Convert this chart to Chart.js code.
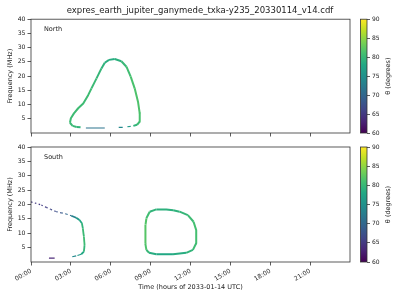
<!DOCTYPE html>
<html>
<head>
<meta charset="utf-8">
<script src="https://cdn.jsdelivr.net/npm/chart.js@4.4.0/dist/chart.umd.min.js"></script>
<style>
  html, body { margin: 0; padding: 0; background: #fff; }
  #wrap { position: relative; width: 400px; height: 300px; }
  #wrap canvas { position: absolute; left: 0; }
</style>
</head>
<body>
<div id="wrap">
  <canvas id="northChart" width="400" height="140" style="top:0"></canvas>
  <canvas id="southChart" width="400" height="160" style="top:140px"></canvas>
</div>
<script>
// ---- text ----
const TITLE = 'expres_earth_jupiter_ganymede_txka-y235_20330114_v14.cdf';
const X_TITLE = 'Time (hours of 2033-01-14 UTC)';
const Y_TITLE = 'Frequency (MHz)';
const CB_TITLE = 'θ (degrees)';

// ---- ticks ----
const hourTicks = [0, 3, 6, 9, 12, 15, 18, 21];
const hourLabels = ['00:00', '03:00', '06:00', '09:00', '12:00', '15:00', '18:00', '21:00'];
const freqTicks = [5, 10, 15, 20, 25, 30, 35, 40];
const thetaTicks = [60, 65, 70, 75, 80, 85, 90];

// ---- North hemisphere (time h, freq MHz, theta deg) ----
const northLoopT  = [3.73, 3.43, 3.13, 2.93, 3.0, 3.23, 3.55, 3.93, 4.3, 4.55, 4.93, 5.3, 5.55, 5.87, 6.3, 6.8, 7.18, 7.5, 7.8, 8.05, 8.18, 8.18, 7.98, 7.7];
const northLoopF  = [2.0, 2.1, 2.5, 3.6, 5.2, 6.9, 8.7, 10.4, 13.3, 15.7, 19.2, 22.7, 24.7, 25.7, 26.0, 25.2, 23.3, 19.8, 15.7, 11.0, 6.9, 4.0, 2.9, 2.5];
const northLoopTh = [79, 80, 80, 80.5, 80.5, 80.5, 80.5, 80.5, 80.5, 80.5, 80, 79.5, 79, 78.5, 78.5, 79.5, 80.5, 81, 81.5, 81.5, 81.5, 81, 80, 79];

const northLowT  = [4.13, 5.55, 5.6, 6.6, 6.9, 6.95, 7.25, 7.5];
const northLowF  = [1.75, 1.75, null, 2.0, 2.0, null, 2.2, 2.3];
const northLowTh = [71.5, 71.5, 71.5, 74, 74, 74, 76, 76];

// ---- South hemisphere ----
const southDotT  = [0.0, 0.4, 0.78, 1.15, 1.48, 1.9, 2.28, 2.65, 3.03];
const southDotF  = [20.9, 20.4, 19.8, 19.0, 18.3, 17.5, 17.1, 16.7, 16.1];
const southDotTh = [65, 65, 65, 65.5, 66, 67, 68, 69.5, 71.5];

const southArcT  = [3.03, 3.4, 3.65, 3.83, 3.9, 3.98, 4.03, 3.98, 3.78];
const southArcF  = [16.1, 15.4, 14.6, 13.5, 11.7, 8.8, 5.9, 3.6, 2.7];
const southArcTh = [71.5, 75, 77, 79, 80, 80.5, 80.5, 79, 77];

const southTailT  = [3.78, 3.4, 2.98];
const southTailF  = [2.7, 2.1, 1.7];
const southTailTh = [77, 75, 73];

const southLowT  = [1.35, 1.78];
const southLowF  = [1.35, 1.35];
const southLowTh = [63, 63];

const southLoopT  = [8.68, 8.6, 8.6, 8.62, 8.68, 8.93, 9.43, 10.18, 10.7, 11.18, 11.8, 12.23, 12.43, 12.43, 12.18, 11.68, 10.68, 9.43, 8.88, 8.68];
const southLoopF  = [4.2, 6.5, 10.0, 13.0, 15.2, 17.5, 18.3, 18.3, 18.0, 17.5, 16.3, 14.0, 11.1, 6.5, 4.2, 3.2, 2.7, 2.7, 3.2, 4.2];
const southLoopTh = [81, 82, 82, 82, 81.5, 80, 79, 79, 79, 79.5, 80, 81, 81, 81, 80, 79, 78, 78, 79, 81];

// ---- viridis colour map ----
const VIRIDIS = ['#440154', '#482475', '#414487', '#355f8d', '#2a788e', '#21918c', '#22a884', '#44bf70', '#7ad151', '#bddf26', '#fde725'];
const VIR_RGB = VIRIDIS.map(h => [1, 3, 5].map(i => parseInt(h.substr(i, 2), 16)));

function viridis(theta) {
    const lo = thetaTicks[0], hi = thetaTicks[thetaTicks.length - 1];
    let u = Math.max(0, Math.min(1, (theta - lo) / (hi - lo))) * (VIR_RGB.length - 1);
    const i = Math.min(Math.floor(u), VIR_RGB.length - 2);
    const f = u - i;
    const c = VIR_RGB[i].map((v, k) => Math.round(v + (VIR_RGB[i + 1][k] - v) * f));
    return `rgb(${c.join(',')})`;
}

function track(ts, fs, th, width, dash) {
    return {
        data: ts.map((t, i) => ({ x: t, y: fs[i] })),
        xAxisID: 'x',
        yAxisID: 'y',
        showLine: true,
        pointRadius: 0,
        borderWidth: width,
        borderDash: dash || [],
        borderColor: viridis(th[0]),
        borderJoinStyle: 'round',
        segment: {
            borderColor: ctx => viridis((th[ctx.p0DataIndex] + th[ctx.p1DataIndex]) / 2)
        }
    };
}

// ---- frame, colourbar, panel name ----
const decorations = {
    id: 'decorations',
    afterDraw(chart, args, opts) {
        const { ctx, chartArea: a } = chart;
        const cb = chart.scales.cb;
        ctx.save();
        ctx.strokeStyle = '#333';
        ctx.lineWidth = 0.8;
        ctx.strokeRect(a.left, a.top, a.right - a.left, a.bottom - a.top);

        const top = cb.getPixelForValue(thetaTicks[thetaTicks.length - 1]);
        const bot = cb.getPixelForValue(thetaTicks[0]);
        const w = 6.5;
        const x0 = cb.left - w;
        const g = ctx.createLinearGradient(0, bot, 0, top);
        VIRIDIS.forEach((c, i) => g.addColorStop(i / (VIRIDIS.length - 1), c));
        ctx.fillStyle = g;
        ctx.fillRect(x0, top, w, bot - top);
        ctx.strokeRect(x0, top, w, bot - top);

        ctx.fillStyle = '#222';
        ctx.font = '6.5px "DejaVu Sans"';
        ctx.textAlign = 'center';
        ctx.textBaseline = 'middle';
        ctx.translate(388, (top + bot) / 2);
        ctx.rotate(-Math.PI / 2);
        ctx.fillText(CB_TITLE, 0, 0);
        ctx.restore();

        ctx.save();
        ctx.fillStyle = '#222';
        ctx.font = '6.5px "DejaVu Sans"';
        ctx.textBaseline = 'middle';
        ctx.fillText(opts.name, a.left + 13, a.top + 10.5);
        ctx.restore();
    }
};

Chart.defaults.font.family = '"DejaVu Sans", sans-serif';
Chart.defaults.color = '#222';

function panelOptions(name, isBottom) {
    return {
        responsive: false,
        animation: false,
        layout: { padding: { top: isBottom ? 7 : 0, left: 0, right: 0, bottom: 0 } },
        plugins: {
            legend: { display: false },
            tooltip: { enabled: false },
            title: {
                display: !isBottom,
                text: TITLE,
                color: '#222',
                font: { size: 8.5, weight: 'normal' },
                padding: { top: 6, bottom: 3 }
            },
            decorations: { name: name }
        },
        scales: {
            x: {
                type: 'linear',
                position: 'bottom',
                min: 0,
                max: 24,
                afterBuildTicks: s => { s.ticks = hourTicks.map(v => ({ value: v })); },
                afterFit: s => { s.height = isBottom ? 38 : 7; },
                ticks: {
                    display: isBottom,
                    autoSkip: false,
                    minRotation: 30,
                    maxRotation: 30,
                    padding: 2,
                    color: '#222',
                    font: { size: 6.2 },
                    callback: v => hourLabels[hourTicks.indexOf(v)]
                },
                grid: { drawOnChartArea: false, tickLength: 3.5, tickColor: '#333', tickWidth: 0.8 },
                border: { display: false },
                title: {
                    display: isBottom,
                    text: X_TITLE,
                    color: '#222',
                    font: { size: 6.5 },
                    padding: { top: 0, bottom: 9 }
                }
            },
            y: {
                type: 'linear',
                position: 'left',
                min: 0,
                max: 40,
                afterBuildTicks: s => { s.ticks = freqTicks.map(v => ({ value: v })); },
                afterFit: s => { s.width = 31; },
                ticks: { padding: 2, color: '#222', font: { size: 6.2 } },
                grid: { drawOnChartArea: false, tickLength: 3.5, tickColor: '#333', tickWidth: 0.8 },
                border: { display: false },
                title: {
                    display: true,
                    text: Y_TITLE,
                    color: '#222',
                    font: { size: 6.5 },
                    padding: { top: 6, bottom: 0 }
                }
            },
            gap: {
                type: 'linear',
                position: 'right',
                weight: 0,
                min: 0,
                max: 1,
                ticks: { display: false },
                grid: { display: false },
                border: { display: false },
                afterFit: s => { s.width = 17; }
            },
            cb: {
                type: 'linear',
                position: 'right',
                weight: 1,
                min: thetaTicks[0],
                max: thetaTicks[thetaTicks.length - 1],
                afterBuildTicks: s => { s.ticks = thetaTicks.map(v => ({ value: v })); },
                afterFit: s => { s.width = 33; },
                ticks: { padding: 2, color: '#222', font: { size: 6 } },
                grid: { drawOnChartArea: false, tickLength: 3, tickColor: '#333', tickWidth: 0.8 },
                border: { display: false }
            }
        }
    };
}

new Chart(document.getElementById('northChart'), {
    type: 'scatter',
    data: {
        datasets: [
            track(northLoopT, northLoopF, northLoopTh, 2),
            track(northLowT, northLowF, northLowTh, 1.2)
        ]
    },
    options: panelOptions('North', false),
    plugins: [decorations]
});

new Chart(document.getElementById('southChart'), {
    type: 'scatter',
    data: {
        datasets: [
            track(southDotT, southDotF, southDotTh, 1.2, [1.5, 2.5]),
            track(southArcT, southArcF, southArcTh, 1.8),
            track(southTailT, southTailF, southTailTh, 1.2, [4, 2]),
            track(southLowT, southLowF, southLowTh, 1.2),
            track(southLoopT, southLoopF, southLoopTh, 2)
        ]
    },
    options: panelOptions('South', true),
    plugins: [decorations]
});
</script>
</body>
</html>
